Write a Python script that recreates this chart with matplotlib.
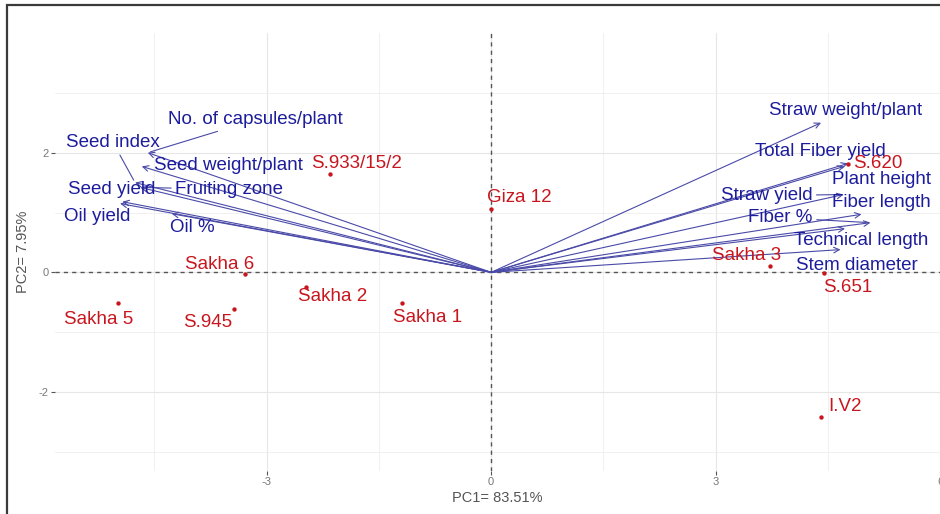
import matplotlib
matplotlib.use("Agg")
import matplotlib.pyplot as plt
from matplotlib.patches import Rectangle

plt.rcParams["axes.unicode_minus"] = False

# genotypes (individuals) on PC1 / PC2
genotypes = ["S.933/15/2", "Giza 12", "S.620", "Sakha 6", "Sakha 3", "S.651",
             "Sakha 2", "Sakha 1", "Sakha 5", "S.945", "I.V2"]
geno_pc1 = [-2.15, 0.0, 4.77, -3.29, 3.73, 4.45, -2.47, -1.19, -4.99, -3.44, 4.41]
geno_pc2 = [1.65, 1.06, 1.81, -0.03, 0.11, -0.01, -0.24, -0.51, -0.52, -0.61, -2.41]

# traits (variables) as arrows
traits = ["No. of capsules/plant", "Seed index", "Seed weight/plant", "Fruiting zone",
          "Seed yield", "Oil yield", "Oil %",
          "Straw weight/plant", "Total Fiber yield", "Plant height", "Straw yield",
          "Fiber length", "Fiber %", "Technical length", "Stem diameter"]
trait_pc1 = [-4.59, -4.76, -4.67, -4.69, -4.93, -4.96, -4.27,
             4.41, 4.77, 4.72, 4.71, 4.95, 5.07, 4.73, 4.67]
trait_pc2 = [2.0, 1.5, 1.77, 1.42, 1.18, 1.15, 0.98,
             2.50, 1.82, 1.77, 1.30, 0.97, 0.83, 0.73, 0.38]

# label offsets in pixels (repelled placement)
geno_offset = {"S.933/15/2": (26, 10), "Giza 12": (28, 11), "S.620": (30, 1),
               "Sakha 6": (-25, 10), "Sakha 3": (-24, 10), "S.651": (24, -15),
               "Sakha 2": (26, -10), "Sakha 1": (25, -15), "Sakha 5": (-19, -16),
               "S.945": (-26, -14), "I.V2": (24, 10)}
trait_offset = {"No. of capsules/plant": (108, 33), "Seed index": (-22, 40),
                "Seed weight/plant": (87, 1), "Fruiting zone": (89, -2),
                "Seed yield": (-11, 12), "Oil yield": (-23, -13), "Oil %": (21, -14),
                "Straw weight/plant": (25, 12), "Total Fiber yield": (-28, 12),
                "Plant height": (37, -13), "Straw yield": (-77, -1),
                "Fiber length": (20, 12), "Fiber %": (-90, 5),
                "Technical length": (16, -12), "Stem diameter": (16, -16)}
with_leader = ["No. of capsules/plant", "Seed index", "Fruiting zone", "Straw yield", "Fiber %"]

blue = "#1c1c9c"
arrow_col = "#4a4aa8"
red = "#c8161e"
label_size = 13.5

fig = plt.figure(figsize=(9.4, 5.14), dpi=100)
ax = fig.add_axes([55 / 940, 1 - 471 / 514, 1 - 55 / 940, (471 - 33) / 514])

ax.set_xlim(-5.83, 6.0)
ax.set_ylim(-3.32, 4.0)
ax.set_xticks([-3, 0, 3, 6])
ax.set_yticks([-2, 0, 2])
ax.set_xticks([-4.5, -1.5, 1.5, 4.5], minor=True)
ax.set_yticks([-3, -1, 1, 3], minor=True)
ax.grid(which="major", color="#e6e6e6", lw=0.8)
ax.grid(which="minor", color="#eeeeee", lw=0.6)
ax.set_axisbelow(True)
for s in ax.spines.values():
    s.set_visible(False)
ax.tick_params(which="major", length=3, width=0.8, color="#555555",
               labelcolor="#777777", labelsize=8, pad=1.5)
ax.tick_params(which="minor", length=0)
for lab in ax.get_xticklabels() + ax.get_yticklabels():
    lab.set_family(["Liberation Sans Narrow", "Liberation Sans"])

ax.axhline(0, color="#555555", lw=1.0, ls=(0, (3, 3)), zorder=1)
ax.axvline(0, color="#555555", lw=1.0, ls=(0, (3, 3)), zorder=1)

ax.set_xlabel("PC1= 83.51%", fontsize=10.5, color="#555555", labelpad=3,
              family=["Liberation Sans Narrow", "Liberation Sans"])
ax.set_ylabel("PC2= 7.95%", fontsize=10.5, color="#555555", labelpad=6,
              family=["Liberation Sans Narrow", "Liberation Sans"])

# variable arrows
for name, x, y in zip(traits, trait_pc1, trait_pc2):
    ax.annotate("", xy=(x, y), xytext=(0, 0),
                arrowprops=dict(arrowstyle="->", color=arrow_col, lw=0.8,
                                shrinkA=0, shrinkB=0, mutation_scale=10))
    dx, dy = trait_offset[name]
    props = None
    if name in with_leader:
        props = dict(arrowstyle="-", color=arrow_col, lw=0.8, shrinkA=1, shrinkB=2)
    ax.annotate(name, xy=(x, y), xytext=(dx, dy), textcoords="offset pixels",
                ha="center", va="center", fontsize=label_size, color=blue,
                family="Liberation Sans", arrowprops=props, zorder=4)

# individuals
ax.scatter(geno_pc1, geno_pc2, s=10, color=red, zorder=3, linewidths=0)
for name, x, y in zip(genotypes, geno_pc1, geno_pc2):
    dx, dy = geno_offset[name]
    ax.annotate(name, xy=(x, y), xytext=(dx, dy), textcoords="offset pixels",
                ha="center", va="center", fontsize=label_size, color=red,
                family="Liberation Sans", zorder=4)

# outer frame (cropped at right and bottom)
fig.patches.append(Rectangle((7.5 / 940, -0.2), 1.2, 1.2 - 5 / 514,
                             transform=fig.transFigure, fill=False,
                             edgecolor="#3a3a3a", lw=1.6, clip_on=False))

fig.savefig("out.png", dpi=100)
